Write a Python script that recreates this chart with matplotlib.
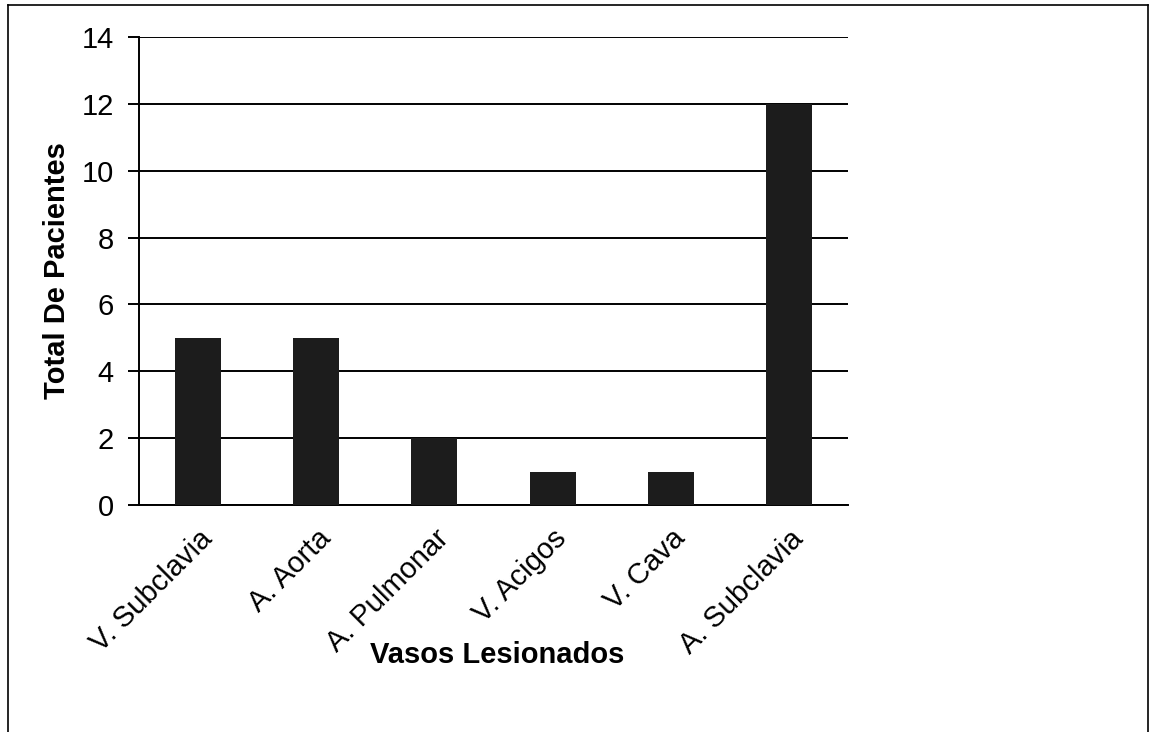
import matplotlib.pyplot as plt
from matplotlib.lines import Line2D

categorias = ['V. Subclavia', 'A. Aorta', 'A. Pulmonar', 'V. Acigos', 'V. Cava', 'A. Subclavia']
pacientes = [5, 5, 2, 1, 1, 12]
y_ticks = [0, 2, 4, 6, 8, 10, 12, 14]

plt.rcParams['font.family'] = ['Liberation Sans', 'DejaVu Sans']

fig = plt.figure(figsize=(11.56, 7.32), dpi=100)
ax = fig.add_axes([139 / 1156, 1 - 505 / 732, (848 - 139) / 1156, (505 - 37) / 732])

x = range(len(categorias))
ax.bar(x, pacientes, width=0.39, color='#1c1c1c', zorder=3)

ax.set_xlim(-0.5, len(categorias) - 0.5)
ax.set_ylim(0, 14)
ax.set_yticks(y_ticks)
ax.set_yticklabels([str(v) for v in y_ticks], fontsize=21)
ax.yaxis.grid(True, color='black', linewidth=1.4, zorder=0)
ax.set_axisbelow(True)

ax.set_xticks(list(x))
ax.set_xticklabels(categorias, fontsize=21, rotation=45, ha='right', va='top',
                   rotation_mode='anchor')
ax.tick_params(axis='x', length=0, pad=14)
ax.tick_params(axis='y', length=8, width=1.4, pad=10)

for s in ['top', 'right']:
    ax.spines[s].set_visible(False)
for s in ['left', 'bottom']:
    ax.spines[s].set_linewidth(1.4)
    ax.spines[s].set_color('black')

ax.set_ylabel('Total De Pacientes', fontsize=21, fontweight='bold', labelpad=8)
fig.text(497 / 1156, 1 - 655 / 732, 'Vasos Lesionados', fontsize=21, fontweight='bold',
         ha='center', va='center')

# marco de la figura
fig.add_artist(Line2D([8 / 1156, 8 / 1156], [0, 1 - 5 / 732], color='black', lw=1.2,
                      transform=fig.transFigure))
fig.add_artist(Line2D([8 / 1156, 1148 / 1156], [1 - 5 / 732, 1 - 5 / 732], color='black',
                      lw=1.2, transform=fig.transFigure))
fig.add_artist(Line2D([1148 / 1156, 1148 / 1156], [0, 1 - 5 / 732], color='black', lw=1.2,
                      transform=fig.transFigure))

fig.savefig('out.png', dpi=100)
